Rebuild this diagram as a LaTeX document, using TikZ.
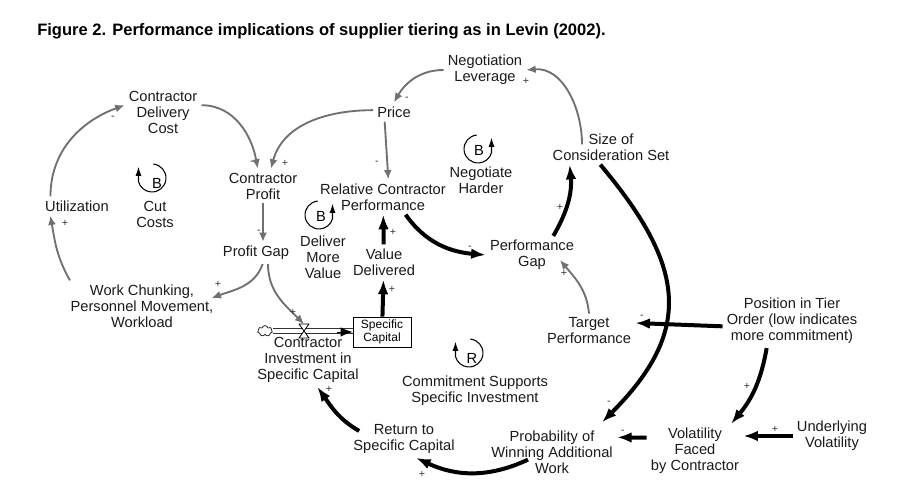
\documentclass[tikz,border=0pt]{standalone}
\usepackage{fontspec}
\setmainfont{Liberation Sans}
\usetikzlibrary{arrows.meta, shapes.symbols}
\definecolor{cldGray}{HTML}{707070}
\definecolor{cldText}{HTML}{1A1A1A}

\begin{document}
\begin{tikzpicture}[
  x=0.75pt, y=0.75pt,
  var/.style={font=\fontsize{11}{12}\selectfont, align=center, inner sep=3pt, text=cldText},
  gry/.style={draw=cldGray, line width=1.4pt, -{Latex[length=7pt, width=6pt]}},
  blk/.style={draw=black, line width=3pt, -{Latex[length=11pt, width=8pt]}},
  pipe/.style={draw=black!80, line width=0.7pt, double=white, double distance=2.4pt},
  pol/.style={font=\fontsize{8}{8}\selectfont, text=black!80, inner sep=0pt},
  loopcw/.style={line width=0.8pt, -{Latex[length=7pt, width=4.5pt]}},
  loopl/.style={font=\fontsize{11}{12}\selectfont, inner sep=0pt}
]
\useasboundingbox (0,0) rectangle (907,497);

\node[anchor=west, inner sep=0pt, font=\bfseries\fontsize{12.4}{14}\selectfont] (title) at (37,466) {Figure 2. Performance implications of supplier tiering as in Levin (2002).};

\node[var] (cdc) at (163,385) {Contractor\\Delivery\\Cost};
\node[var] (util) at (77,291) {Utilization};
\node[var] (profit) at (263,311) {Contractor\\Profit};
\node[var] (gap) at (256,244) {Profit Gap};
\node[var] (work) at (142,191) {Work Chunking,\\Personnel Movement,\\Workload};
\node[var] (price) at (394,385) {Price};
\node[var] (lever) at (485,427) {Negotiation\\Leverage};
\node[var] (rcp) at (383,300) {Relative Contractor\\Performance};
\node[var] (value) at (384,235) {Value\\Delivered};
\node[var] (pgap) at (532,242) {Performance\\Gap};
\node[var] (size) at (611,350) {Size of\\Consideration Set};
\node[draw, line width=0.6pt, align=center, font=\fontsize{9}{10}\selectfont, minimum width=43.5pt, minimum height=22.5pt, inner sep=1pt] (cap) at (382,165) {Specific\\Capital};
\node[var] (invest) at (308,137) {Contractor\\Investment in\\Specific Capital};
\node[var] (target) at (589,166) {Target\\Performance};
\node[var] (ret) at (404,58) {Return to\\Specific Capital};
\node[var] (prob) at (552,45) {Probability of\\Winning Additional\\Work};
\node[var] (tier) at (792,176) {Position in Tier\\Order (low indicates\\more commitment)};
\node[var] (vol) at (695,46) {Volatility\\Faced\\by Contractor};
\node[var] (under) at (832,61) {Underlying\\Volatility};

\node[cloud, draw, line width=0.5pt, cloud puffs=7, aspect=1.3, minimum width=11pt, minimum height=8pt, inner sep=0pt] (cloud) at (265,166) {};
\node[inner sep=0pt, minimum width=7pt, minimum height=10pt] (valve) at (304,166) {};

\node[var] (cutTxt) at (155,283) {Cut\\Costs};
\node[var] (valueTxt) at (323,240) {Deliver\\More\\Value};
\node[var] (harderTxt) at (481,317) {Negotiate\\Harder};
\node[var] (commitTxt) at (475,106) {Commitment Supports\\Specific Investment};

\foreach \cx/\cy/\lx/\ly/\l [count=\i] in {152/319/157/314/B, 469/144/472/139/R}{
  \draw[loopcw] (\cx,\cy) ++(85:14) arc[start angle=85, end angle=-165, radius=14] -- ++(0,15);
  \node[loopl] (loopA\i) at (\lx,\ly) {\l};
}
\foreach \cx/\cy/\lx/\ly/\l [count=\i] in {319/282/321/281/B, 478/348/479/347/B}{
  \draw[loopcw] (\cx,\cy) ++(95:14) arc[start angle=95, end angle=345, radius=14] -- ++(0,15);
  \node[loopl] (loopC\i) at (\lx,\ly) {\l};
}

\draw[gry] (util.160) to[out=90, in=200] (cdc.170);
\draw[gry] (cdc.10) to[out=0, in=100] ([xshift=-4]profit.north);
\draw[gry] (price.175) to[out=180, in=75] ([xshift=6]profit.north);
\draw[gry] (profit.south) -- (profit.south |- gap.north);
\draw[gry] ([xshift=5]gap.south) to[out=-110, in=20] ([shift={(-6,8)}]work.east);
\draw[gry] ([xshift=-54]work.north) to[out=120, in=-80] ([xshift=-20]util.south);
\draw[gry] ([xshift=9]gap.south) to[out=-90, in=135] (valve.north);
\draw[gry] ([xshift=-7]price.south) -- ([xshift=4]rcp.north);
\draw[gry] (lever.west) to[out=180, in=60] (price.north);
\draw[gry] ([shift={(-29,-15)}]size.north) to[out=90, in=5] (lever.east);
\draw[gry] (target.north) to[out=95, in=-50] ([shift={(28,14)}]pgap.south);

\draw[pipe] (cloud.east) -- (cloud.east -| cap.west);
\draw[-{Latex[length=9pt, width=7pt]}, line width=0.6pt] ([xshift=-12]cap.west) -- (cap.west);
\draw[fill=white, line width=0.6pt] (valve.north west) -- (valve.north east) -- (valve.south west) -- (valve.south east) -- cycle;

\draw[blk] ([xshift=17]rcp.south) to[out=-55, in=175] (pgap.west);
\draw[blk] ([xshift=16]pgap.north) to[out=60, in=-85] ([xshift=-31]size.south);
\draw[blk] (value) -- (rcp);
\draw[blk] (cap) -- (value);
\draw[blk] ([xshift=-8]size.south) to[out=-50, in=45, looseness=1.3] ([shift={(50,4)}]prob.north);
\draw[blk] ([yshift=-4]tier.west) -- ([yshift=6]target.east);
\draw[blk] ([xshift=-19]tier.south) to[out=-100, in=50] ([xshift=27]vol.north);
\draw[blk] (under.west) -- (under.west -| vol.east);
\draw[blk] ([yshift=10]vol.west) -- ([yshift=11]prob.east);
\draw[blk] ([shift={(-24,18)}]prob.south) to[out=205, in=-25] ([xshift=9]ret.south);
\draw[blk] ([shift={(10,8)}]ret.west) to[out=150, in=-55] ([xshift=7]invest.south);

\foreach \px/\py/\ps [count=\k] in {113/379/-, 252/334/-, 285/334/+, 259/265/-, 218/213/+, 65/274/+, 293/185/+, 377/334/-, 407/398/-, 526/416/+, 564/224/+, 470/249/-, 560/290/+, 393/265/+, 392/208/+, 609/94/-, 642/180/-, 747/111/+, 775/68/+, 623/65/-, 422/23/+, 329/108/+}
  \node[pol] (sign\k) at (\px,\py) {\ps};
\end{tikzpicture}
\end{document}
